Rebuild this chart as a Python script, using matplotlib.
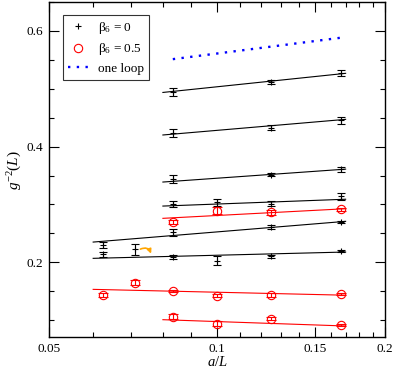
import matplotlib
matplotlib.use("Agg")
import matplotlib.pyplot as plt
from matplotlib.ticker import FixedLocator, NullFormatter, FixedFormatter

plt.rcParams['font.family'] = ['Liberation Serif', 'DejaVu Serif']
plt.rcParams['mathtext.fontset'] = 'custom'
plt.rcParams['mathtext.rm'] = 'Liberation Serif'
plt.rcParams['mathtext.it'] = 'Liberation Serif:italic'

# ---------------- data ----------------
# beta6 = 0 (black) series
b0_A_x = [1/12, 1/8, 1/6]
b0_A_y = [0.4946, 0.5114, 0.5270]
b0_A_e = [0.007, 0.004, 0.005]

b0_B_x = [1/12, 1/8, 1/6]
b0_B_y = [0.4228, 0.4325, 0.4458]
b0_B_e = [0.007, 0.004, 0.006]

b0_C_x = [1/12, 1/8, 1/6]
b0_C_y = [0.3434, 0.3513, 0.3606]
b0_C_e = [0.007, 0.003, 0.004]

b0_D_x = [1/12, 1/10, 1/8, 1/6]
b0_D_y = [0.3012, 0.3036, 0.3012, 0.3145]
b0_D_e = [0.005, 0.006, 0.004, 0.006]

b0_F_x = [1/16, 1/12, 1/8, 1/6]
b0_F_y = [0.2299, 0.2518, 0.2615, 0.2696]
b0_F_e = [0.006, 0.006, 0.0035, 0.0025]

b0_X_x = [1/14]
b0_X_y = [0.2225]
b0_X_e = [0.010]

b0_G_x = [1/16, 1/12, 1/10, 1/8, 1/6]
b0_G_y = [0.2138, 0.2086, 0.2030, 0.2104, 0.2190]
b0_G_e = [0.0045, 0.0035, 0.0075, 0.0025, 0.0015]

# beta6 = 0.5 (red) series
b5_E_x = [1/12, 1/10, 1/8, 1/6]
b5_E_y = [0.2696, 0.2891, 0.2863, 0.2915]
b5_E_e = [0.004, 0.006, 0.004, 0.002]

b5_H_x = [1/16, 1/14, 1/12, 1/10, 1/8, 1/6]
b5_H_y = [0.1435, 0.1648, 0.1510, 0.1424, 0.1435, 0.1450]
b5_H_e = [0.004, 0.004, 0.002, 0.003, 0.003, 0.002]

b5_I_x = [1/12, 1/10, 1/8, 1/6]
b5_I_y = [0.1061, 0.0940, 0.1026, 0.0917]
b5_I_e = [0.004, 0.004, 0.003, 0.002]

# fit lines: (x_start, x_end), (y_start, y_end)
fit_b0 = [
    ((0.08, 0.17), (0.4935, 0.5265)),
    ((0.08, 0.17), (0.4200, 0.4470)),
    ((0.08, 0.17), (0.3387, 0.3610)),
    ((0.08, 0.17), (0.2972, 0.3090)),
    ((0.06, 0.17), (0.2350, 0.2708)),
    ((0.06, 0.17), (0.2069, 0.2178)),
]
fit_b5 = [
    ((0.08, 0.17), (0.2760, 0.2926)),
    ((0.06, 0.17), (0.1533, 0.1432)),
    ((0.08, 0.17), (0.1009, 0.0900)),
]

oneloop_x = [1/12, 1/6]
oneloop_y = [0.551, 0.588]

xticks_major = [0.05, 0.1, 0.15, 0.2]
xtick_labels = ['0.05', '0.1', '0.15', '0.2']
xticks_minor = [0.06, 0.07, 0.08, 0.09, 0.11, 0.12, 0.13, 0.14, 0.16, 0.17, 0.18, 0.19]
yticks_major = [0.2, 0.4, 0.6]
yticks_minor = [0.1, 0.15, 0.25, 0.3, 0.35, 0.45, 0.5, 0.55, 0.65]

# ---------------- plot ----------------
fig = plt.figure(figsize=(3.95, 3.70), dpi=100)
ax = fig.add_axes([0.124, 0.0884, 0.8507, 0.9066])

for (xs, ys) in fit_b0:
    ax.plot(xs, ys, color='black', lw=0.8, zorder=2)
for (xs, ys) in fit_b5:
    ax.plot(xs, ys, color='red', lw=0.8, zorder=2)

blk = dict(fmt='+', color='black', ms=4, mew=0.8, elinewidth=0.8,
           capsize=3.2, capthick=0.8, zorder=3)
red = dict(fmt='o', color='red', mfc='none', ms=6, mew=0.8, elinewidth=0.8,
           capsize=3.6, capthick=0.8, zorder=3)

series_b0 = [(b0_A_x, b0_A_y, b0_A_e), (b0_B_x, b0_B_y, b0_B_e),
             (b0_C_x, b0_C_y, b0_C_e), (b0_D_x, b0_D_y, b0_D_e),
             (b0_F_x, b0_F_y, b0_F_e), (b0_X_x, b0_X_y, b0_X_e),
             (b0_G_x, b0_G_y, b0_G_e)]
series_b5 = [(b5_E_x, b5_E_y, b5_E_e), (b5_H_x, b5_H_y, b5_H_e),
             (b5_I_x, b5_I_y, b5_I_e)]

for x, y, e in series_b0:
    ax.errorbar(x, y, yerr=e, **blk)
for x, y, e in series_b5:
    ax.errorbar(x, y, yerr=e, **red)

ax.plot(oneloop_x, oneloop_y, color='blue', lw=1.7, linestyle=(0, (1, 2.7)),
        dash_capstyle='butt', zorder=3)

# orange curved arrow
ax.annotate('', xy=(0.0762, 0.2150), xytext=(0.0729, 0.2228),
            arrowprops=dict(arrowstyle='-|>', color='#ffa500', lw=1.2,
                            mutation_scale=6,
                            connectionstyle='arc3,rad=-0.5',
                            shrinkA=0, shrinkB=0))

# legend proxies
h1, = ax.plot([], [], '+', color='black', ms=4, mew=0.8)
h2, = ax.plot([], [], 'o', color='red', mfc='none', ms=6, mew=0.8)
h3, = ax.plot([], [], color='blue', lw=1.7, linestyle=(0, (1, 2.7)))
leg = ax.legend([h1, h2, h3], ['β$_6$ = 0', 'β$_6$ = 0.5', 'one loop'],
                loc='upper left', bbox_to_anchor=(0.042, 0.962),
                frameon=True, fancybox=False, edgecolor='black',
                fontsize=9.5, handlelength=1.55, handletextpad=0.75,
                labelspacing=0.42, borderpad=0.38, borderaxespad=0.0)
leg.get_frame().set_linewidth(0.8)

ax.set_xscale('log')
ax.set_xlim(0.05, 0.2)
ax.set_ylim(0.0705, 0.65)
ax.xaxis.set_major_locator(FixedLocator(xticks_major))
ax.xaxis.set_major_formatter(FixedFormatter(xtick_labels))
ax.xaxis.set_minor_locator(FixedLocator(xticks_minor))
ax.xaxis.set_minor_formatter(NullFormatter())
ax.yaxis.set_major_locator(FixedLocator(yticks_major))
ax.yaxis.set_minor_locator(FixedLocator(yticks_minor))

ax.tick_params(which='both', direction='in', top=True, right=True,
               labelsize=9.5, width=0.8, pad=4)
ax.tick_params(which='major', length=7)
ax.tick_params(which='minor', length=3.8)
for s in ax.spines.values():
    s.set_linewidth(1.0)

ax.set_xlabel('$a/L$', fontsize=10.5, labelpad=0)
ax.set_ylabel('$g^{-2}(L)$', fontsize=11, labelpad=2)

fig.savefig('out.png', dpi=100)
